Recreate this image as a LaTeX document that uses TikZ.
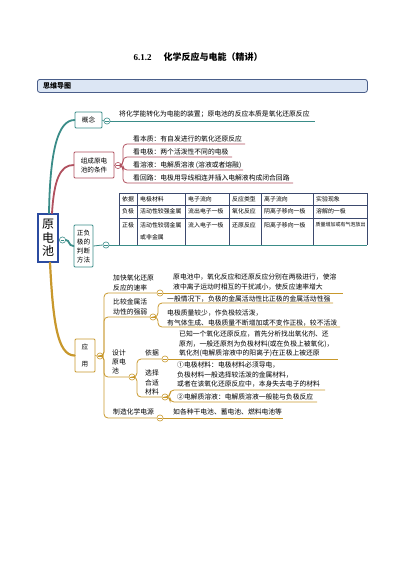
\documentclass[tikz,border=0pt]{standalone}
\usepackage{fontspec}
\setmainfont{Liberation Serif}
\newfontfamily\cjk{Noto Sans CJK SC}
\definecolor{tealc}{HTML}{3A8C88}
\definecolor{redc}{HTML}{B0505E}
\definecolor{goldc}{HTML}{C8982C}
\definecolor{rootc}{HTML}{2B4BA0}
\definecolor{tblc}{HTML}{3D4A6E}
\definecolor{hdrf}{HTML}{DCE6F4}
\definecolor{hdrb}{HTML}{4A5E8A}
\begin{document}
\begin{tikzpicture}[x=1pt,y=-1pt,
  txt/.style={font=\cjk\fontsize{6.8}{9.6}\selectfont, inner sep=0pt, align=left},
  tbl/.style={font=\cjk\fontsize{5.9}{12}\selectfont, inner sep=0pt, anchor=west},
  knob/.style={circle, draw=#1, fill=white, line width=0.6pt, inner sep=0pt, minimum size=6.2pt,
    path picture={\draw[#1, line width=0.6pt] ([xshift=-1.7pt]path picture bounding box.center) -- ([xshift=1.7pt]path picture bounding box.center);}},
  topic/.style={draw=#1, line width=0.8pt, fill=white, rounded corners=1pt, font=\cjk\fontsize{6.6}{9}\selectfont, align=center, inner sep=0pt},
  link/.style={draw=#1, line width=0.8pt, rounded corners=4pt},
  trunk/.style={draw=#1, line width=1.8pt, line cap=round},
  tgrid/.style={draw=tblc, line width=0.6pt},
]
\useasboundingbox (0,0) rectangle (400,566);

% title and header
\node[font=\bfseries\fontsize{9}{11}\selectfont, inner sep=0pt] (title) at (198,57) {6.1.2\hspace{12pt}{\cjk\bfseries 化学反应与电能（精讲）}};
\node[draw=hdrb, fill=hdrf, line width=0.8pt, rounded corners=2.5pt, minimum width=330pt, minimum height=13pt, inner sep=0pt, anchor=north west] (hdr) at (37,79) {};
\node[font=\cjk\bfseries\fontsize{7}{8}\selectfont, inner sep=0pt, anchor=west] (hdrt) at (43,85.5) {思维导图};

% root
\node[draw=rootc, line width=1.4pt, fill=white, minimum width=20pt, minimum height=48pt, inner sep=0pt, font=\cjk\fontsize{12}{13.5}\selectfont, align=center] (root) at (48,238) {原\\电\\池};
\node[knob=tealc] (kroot) at (62.5,240) {};

% 概念
\node[topic=tealc, minimum width=27pt, minimum height=16pt] (gn) at (88.5,120) {概念};
\node[knob=tealc] (kgn) at (107,121) {};
\coordinate (gnend) at (315,121);
\node[txt, anchor=west] (gntxt) at (119,114.5) {将化学能转化为电能的装置；原电池的反应本质是氧化还原反应};
\draw[link=tealc] (gn.east) -- (kgn.west);
\draw[link=tealc] (kgn.east) -- (gnend);

% 组成原电池的条件
\node[topic=redc, minimum width=40pt, minimum height=26pt] (zc) at (94,165) {组成原电\\池的条件};
\node[knob=redc] (kzc) at (118,165.5) {};
\coordinate (z1e) at (245,144);
\coordinate (z2e) at (232,157);
\coordinate (z3e) at (243,170);
\coordinate (z4e) at (293,183);
\draw[link=redc] (zc.east) -- (kzc.west);
\draw[link=redc] (kzc.east) -- (123,165.5) |- (z1e);
\draw[link=redc] (kzc.east) -- (123,165.5) |- (z2e);
\draw[link=redc] (kzc.east) -- (123,165.5) |- (z3e);
\draw[link=redc] (kzc.east) -- (123,165.5) |- (z4e);
\node[txt, anchor=west] (z1) at (133,139) {看本质：有自发进行的氧化还原反应};
\node[txt, anchor=west] (z2) at (133,152) {看电极：两个活泼性不同的电极};
\node[txt, anchor=west] (z3) at (133,165) {看溶液：电解质溶液 (溶液或者熔融)};
\node[txt, anchor=west] (z4) at (133,178) {看回路：电极用导线相连并插入电解液构成闭合回路};

% 正负极的判断方法
\node[topic=tealc, minimum width=19pt, minimum height=42pt] (zf) at (83.5,246) {正负\\极的\\判断\\方法};
\node[knob=tealc] (kzf) at (106,245) {};
\coordinate (zfend) at (367,245);
\draw[link=tealc] (zf.east) -- (kzf.west);
\draw[link=tealc] (kzf.east) -- (zfend);

% table
\draw[tgrid] (119,193) -- (367,193);
\draw[tgrid] (119,205) -- (367,205);
\draw[tgrid] (119,218) -- (367,218);
\foreach \xx in {119,137,185,229,261,313,367} {\draw[tgrid] (\xx,193) -- (\xx,245);}
\node[tbl] (t11) at (122,199) {依据};
\node[tbl] (t12) at (140,199) {电极材料};
\node[tbl] (t13) at (188,199) {电子流向};
\node[tbl] (t14) at (232,199) {反应类型};
\node[tbl] (t15) at (264,199) {离子流向};
\node[tbl] (t16) at (316,199) {实验现象};
\node[tbl] (t21) at (122,211.5) {负极};
\node[tbl] (t22) at (140,211.5) {活动性较强金属};
\node[tbl] (t23) at (188,211.5) {流出电子一极};
\node[tbl] (t24) at (232,211.5) {氧化反应};
\node[tbl] (t25) at (264,211.5) {阴离子移向一极};
\node[tbl] (t26) at (316,211.5) {溶解的一极};
\node[tbl] (t31) at (122,225) {正极};
\node[tbl] (t32) at (140,225) {活动性较弱金属};
\node[tbl] (t32b) at (140,237) {或非金属};
\node[tbl] (t33) at (188,225) {流入电子一极};
\node[tbl] (t34) at (232,225) {还原反应};
\node[tbl] (t35) at (264,225) {阳离子移向一极};
\node[tbl, font=\cjk\fontsize{5}{12}\selectfont] (t36) at (315.5,225) {质量增加或有气泡放出};

% 应用
\node[topic=goldc, minimum width=20pt, minimum height=33pt, font=\cjk\fontsize{6.6}{17}\selectfont] (yy) at (85,355.5) {应\\用};
\node[knob=goldc] (kyy) at (100,356) {};

% root branches
\draw[trunk=tealc] ([xshift=1pt]root.north) .. controls (50,150) and (58,120) .. (gn.west);
\draw[trunk=redc] ([xshift=4pt]root.north) .. controls (54,180) and (60,165) .. (zc.west);
\draw[trunk=tealc] (kroot.east) .. controls (70,240) and (68,246) .. (zf.west);
\draw[trunk=goldc, line width=2.2pt] ([xshift=2pt]root.south) .. controls (53,320) and (57,355.5) .. (yy.west);
\draw[link=goldc] (yy.east) -- (kyy.west);

% 应用 children
\node[knob=goldc] (ka) at (160,293) {};
\node[knob=goldc] (kb) at (153,317) {};
\node[knob=goldc] (kc) at (132,377) {};
\node[knob=goldc] (kf) at (160,418) {};
\draw[link=goldc] (kyy.east) -- (104,356) |- (ka.west);
\draw[link=goldc] (kyy.east) -- (104,356) |- (kb.west);
\draw[link=goldc] (kyy.east) -- (104,356) |- (kc.west);
\draw[link=goldc] (kyy.east) -- (104,356) |- (kf.west);

% 加快
\coordinate (ae) at (343,293);
\draw[link=goldc] (ka.east) -- (ae);
\node[txt, anchor=north west] (at) at (113,274.5) {加快氧化还原\\反应的速率};
\node[txt, anchor=north west] (ar) at (173,273.5) {原电池中，氧化反应和还原反应分别在两极进行，使溶\\液中离子运动时相互的干扰减小，使反应速率增大};

% 比较
\node[txt, anchor=north west] (bt) at (113,298.5) {比较金属活\\动性的强弱};
\coordinate (b1e) at (333,303);
\coordinate (b2e) at (340,327);
\draw[link=goldc] (kb.east) -- (158,317) |- (b1e);
\draw[link=goldc] (kb.east) -- (158,317) |- (b2e);
\node[txt, anchor=west] (b1) at (167,298.5) {一般情况下，负极的金属活动性比正极的金属活动性强};
\node[txt, anchor=north west] (b2) at (167,309.5) {电极质量较少，作负极较活泼，\\有气体生成、电极质量不断增加或不变作正极，较不活泼};

% 设计原电池
\node[txt, anchor=north west, font=\cjk\fontsize{6.8}{9}\selectfont] (ct) at (112,349.5) {设计\\原电\\池};
\node[knob=goldc] (kd) at (165,359) {};
\node[knob=goldc] (ke) at (165,397) {};
\draw[link=goldc] (kc.east) -- (137,377) |- (kd.west);
\draw[link=goldc] (kc.east) -- (137,377) |- (ke.west);
\node[txt, anchor=west] (dt) at (145,353) {依据};
\coordinate (de) at (338,359);
\draw[link=goldc] (kd.east) -- (de);
\node[txt, anchor=north west] (dr) at (179,330.5) {已知一个氧化还原反应，首先分析找出氧化剂、还\\原剂，一般还原剂为负极材料(或在负极上被氧化)，\\氧化剂(电解质溶液中的阳离子)在正极上被还原};
\node[txt, anchor=north west, font=\cjk\fontsize{6.8}{9.6}\selectfont] (et) at (145,369.5) {选择\\合适\\材料};
\coordinate (e1e) at (325,390);
\coordinate (e2e) at (317,402);
\draw[link=goldc] (ke.east) -- (170,397) |- (e1e);
\draw[link=goldc] (ke.east) -- (170,397) |- (e2e);
\node[txt, anchor=north west] (e1) at (177,361.5) {①电极材料：电极材料必须导电，\\负极材料一般选择较活泼的金属材料，\\或者在该氧化还原反应中，本身失去电子的材料};
\node[txt, anchor=west] (e2) at (177,396.5) {②电解质溶液：电解质溶液一般能与负极反应};

% 制造化学电源
\node[txt, anchor=west] (ft) at (113,412) {制造化学电源};
\coordinate (fe) at (283,418);
\draw[link=goldc] (kf.east) -- (fe);
\node[txt, anchor=west] (fr) at (173,412) {如各种干电池、蓄电池、燃料电池等};
\end{tikzpicture}
\end{document}
